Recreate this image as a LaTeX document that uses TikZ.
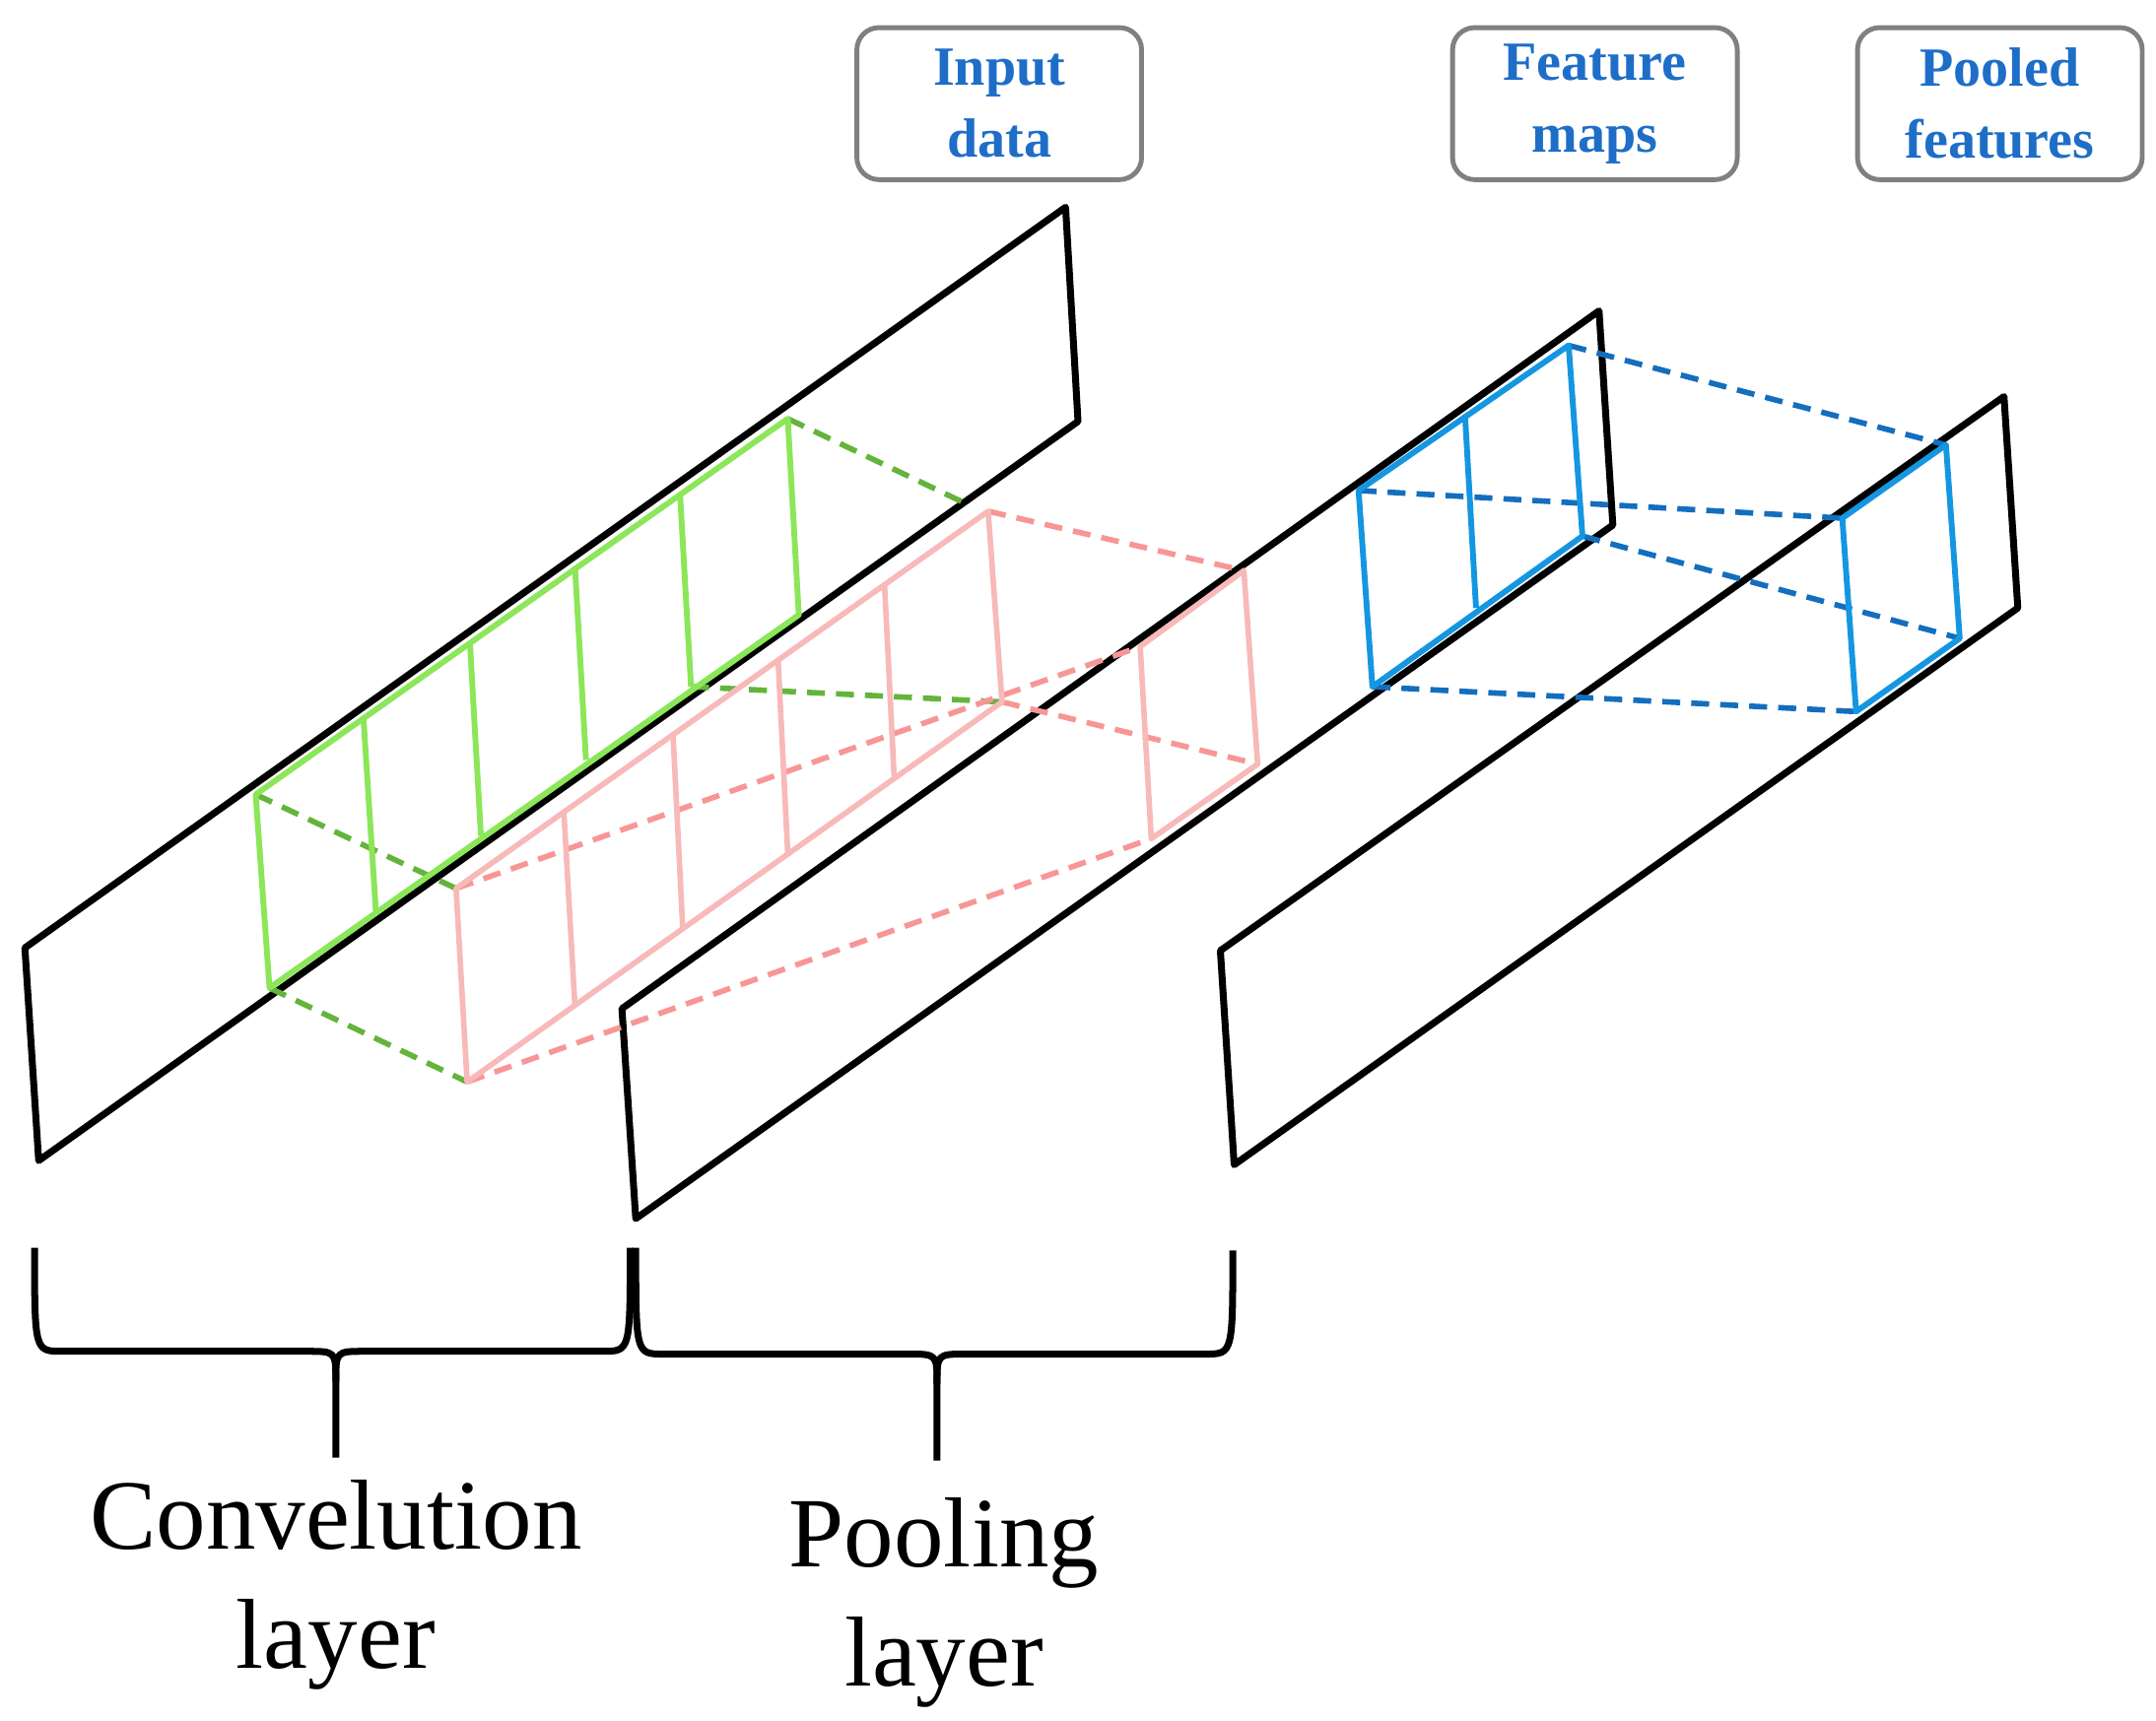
\documentclass[tikz,border=0pt]{standalone}
\usepackage{fontspec}
\setmainfont{Liberation Serif}
\begin{document}
\begin{tikzpicture}[x=1pt,y=-1pt,line join=round,
  plane/.style={draw=black,line width=5pt},
  gr/.style={color={rgb,255:red,140;green,230;blue,90},line width=4.2pt},
  grd/.style={color={rgb,255:red,100;green,180;blue,60},line width=4pt,dash pattern=on 13pt off 8pt},
  pk/.style={color={rgb,255:red,248;green,185;blue,185},line width=4pt},
  pkd/.style={color={rgb,255:red,248;green,150;blue,150},line width=4pt,dash pattern=on 13pt off 8pt},
  bl/.style={color={rgb,255:red,20;green,150;blue,225},line width=4.2pt},
  bld/.style={color={rgb,255:red,20;green,110;blue,190},line width=4pt,dash pattern=on 13pt off 8pt},
  lab/.style={draw=gray,line width=3.5pt,rounded corners=16pt,minimum width=206pt,minimum height=110pt,align=center,text={rgb,255:red,30;green,110;blue,200},font=\fontsize{40}{52}\selectfont\bfseries},
  brace/.style={draw=black,line width=5pt},
  big/.style={align=center,font=\fontsize{72}{86}\selectfont}]
\useasboundingbox (0,0) rectangle (1560,1245);
% planes
\draw[plane] (18,686) -- (771,150) -- (780,305) -- (28,840) -- cycle;
\draw[plane] (450,730) -- (1157,225) -- (1167,380) -- (460,882) -- cycle;
\draw[plane] (883,688) -- (1450,287) -- (1460,440) -- (893,843) -- cycle;
% green
\draw[grd] (570,303) -- (700,365);
\draw[grd] (500,497) -- (725,508);
\draw[grd] (185,575) -- (330,643);
\draw[grd] (195,715) -- (338,783);
\draw[gr] (185,575) -- (570,303) -- (578,445) -- (195,715) -- cycle;
\foreach \a/\b/\c/\d in {263/520/272/660,340/465/348/605,416/410/424/550,492/357/500/497}
  \draw[gr] (\a,\b) -- (\c,\d);
% pink
\draw[pkd] (715,370) -- (900,413);
\draw[pkd] (725,508) -- (910,553);
\draw[pkd] (330,643) -- (825,468);
\draw[pkd] (338,783) -- (833,607);
\draw[pk] (330,643) -- (715,370) -- (725,508) -- (338,783) -- cycle;
\foreach \a/\b/\c/\d in {408/588/416/728,487/532/494/672,563/478/570/618,640/423/647/563}
  \draw[pk] (\a,\b) -- (\c,\d);
\draw[pk] (825,468) -- (900,413) -- (910,553) -- (833,607) -- cycle;
% blue
\draw[bld] (1135,250) -- (1408,322);
\draw[bld] (983,355) -- (1333,375);
\draw[bld] (1145,388) -- (1418,462);
\draw[bld] (993,497) -- (1343,515);
\draw[bl] (983,355) -- (1135,250) -- (1145,388) -- (993,497) -- cycle;
\draw[bl] (1060,300) -- (1068,440);
\draw[bl] (1333,375) -- (1408,322) -- (1418,462) -- (1343,515) -- cycle;
% labels
\node[lab] (in) at (723,75) {Input\\data};
\node[lab] (fm) at (1154,75) {Feature\\maps};
\node[lab] (pf) at (1447,75) {Pooled\\features};
% braces
\draw[brace] (25,903) .. controls (25,978) .. (45,978) -- (222,978) .. controls (243,978) .. (243,1000) -- (243,1055);
\draw[brace] (456,903) .. controls (456,978) .. (436,978) -- (264,978) .. controls (243,978) .. (243,1000);
\draw[brace] (460,903) .. controls (460,980) .. (480,980) -- (657,980) .. controls (678,980) .. (678,1002) -- (678,1057);
\draw[brace] (892,905) .. controls (892,980) .. (872,980) -- (699,980) .. controls (678,980) .. (678,1002);
\node[big] (cl) at (243,1147) {Convelution\\layer};
\node[big] (pl) at (683,1160) {Pooling\\layer};
\end{tikzpicture}
\end{document}
